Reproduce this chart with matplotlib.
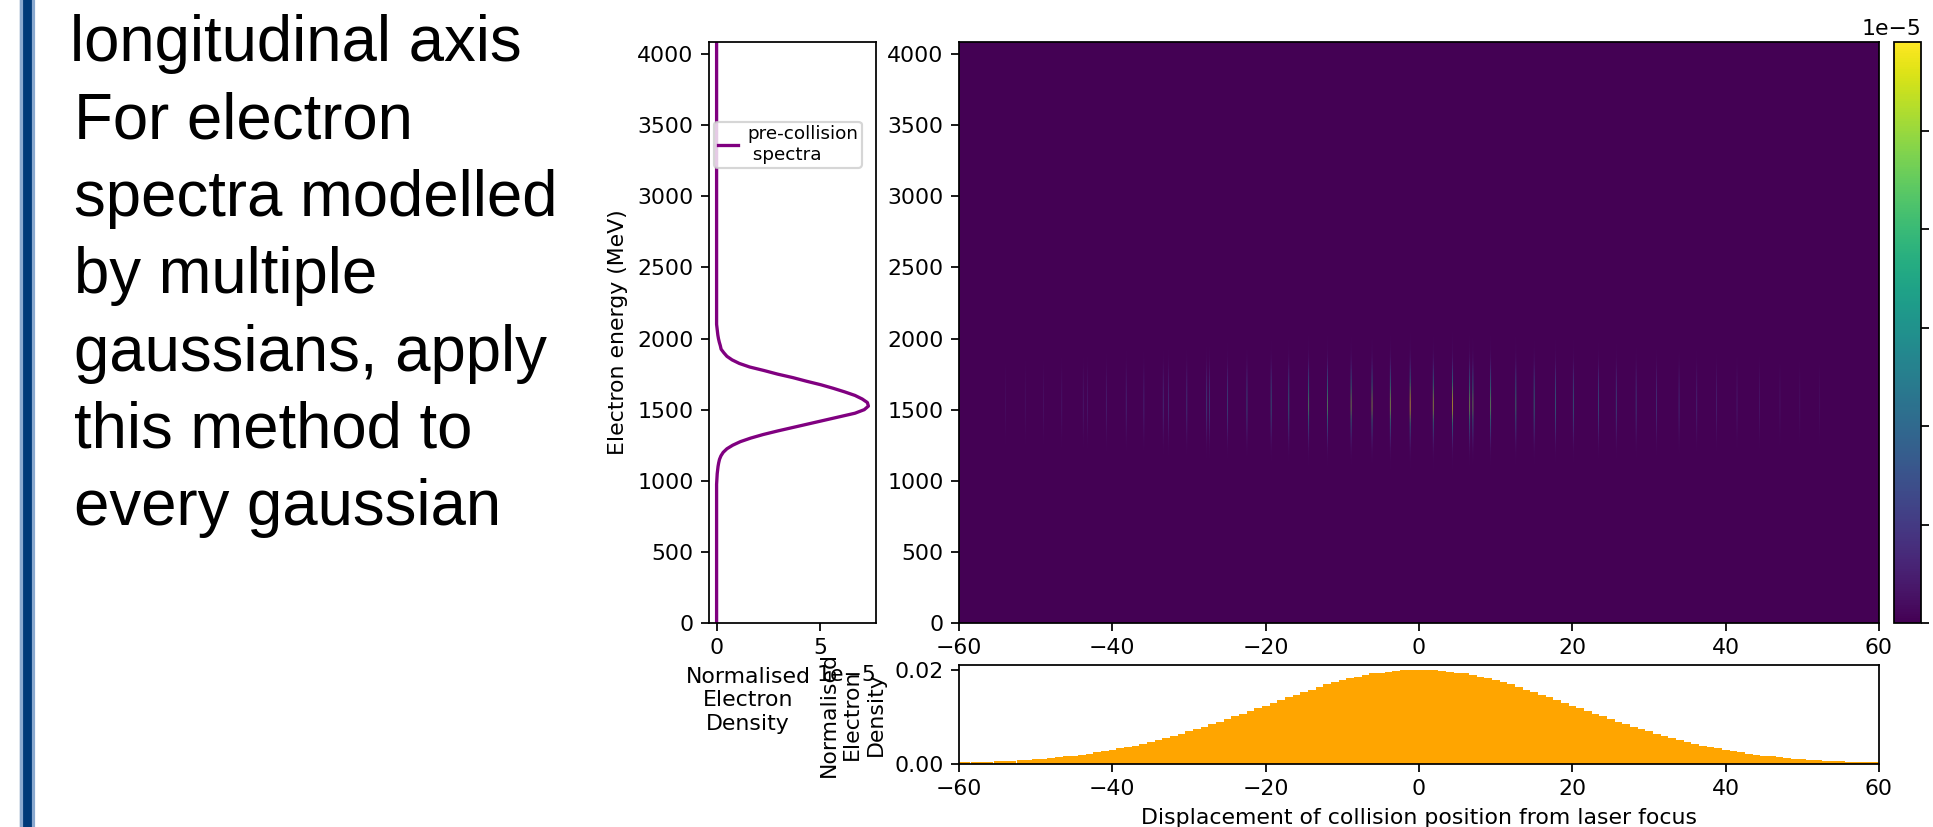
import numpy as np
import matplotlib
matplotlib.use("Agg")
import matplotlib.pyplot as plt
from matplotlib.patches import Rectangle

# slide text left of the figure
slide_lines = [
    "longitudinal axis",
    "For electron",
    "spectra modelled",
    "by multiple",
    "gaussians, apply",
    "this method to",
    "every gaussian",
]

# pre-collision spectrum (units of 1e-5), 1000..2100 MeV every 25 MeV
spectrum_start = 1000
spectrum_step = 25
spectrum_density = [
    0.01, 0.02, 0.03, 0.05, 0.07, 0.10, 0.14, 0.21, 0.32, 0.50,
    0.78, 1.15, 1.65, 2.25, 2.95, 3.70, 4.45, 5.20, 5.95, 6.70,
    7.15, 7.35, 7.30, 7.05, 6.70, 6.20, 5.65, 5.05, 4.35, 3.70,
    2.95, 2.30, 1.60, 1.10, 0.75, 0.50, 0.35, 0.22, 0.18, 0.13,
    0.09, 0.06, 0.04, 0.02, 0.00,
]

# collision positions of the streaks in the map and their peak value (units of 1e-5)
streak_pos = [
    -54.0, -51.4, -49.0, -46.6, -43.8, -43.3, -40.8, -38.2, -35.9, -33.4,
    -32.7, -30.3, -27.7, -27.4, -25.0, -22.5, -19.3, -17.0, -14.4, -12.0,
    -8.9, -6.2, -3.8, -1.2, 1.8, 4.3, 6.6, 7.0, 9.3, 12.6,
    15.0, 17.8, 20.1, 23.4, 25.7, 28.3, 30.9, 33.9, 36.2, 38.8,
    41.4, 44.4, 47.0, 49.6, 52.2,
]
streak_peak = [
    0.3, 0.35, 0.4, 0.5, 0.6, 0.6, 0.8, 1.0, 1.0, 1.2,
    1.2, 1.5, 1.7, 1.7, 2.0, 2.3, 2.8, 3.2, 4.2, 4.3,
    4.8, 5.0, 5.0, 5.9, 5.2, 5.7, 4.8, 4.6, 4.5, 3.8,
    3.4, 3.0, 2.7, 2.3, 2.0, 1.7, 1.4, 1.2, 1.0, 0.85,
    0.7, 0.55, 0.45, 0.35, 0.3,
]

# longitudinal bunch profile (bottom panel), -60..60 in steps of 1
bunch_pos = np.arange(-60, 61, 1)
bunch_neg = [
    0.0004, 0.0004, 0.0004, 0.0005, 0.0005, 0.0006, 0.0006, 0.0007, 0.0008, 0.0009,
    0.0010, 0.0011, 0.0013, 0.0014, 0.0016, 0.0018, 0.0020, 0.0022, 0.0025, 0.0027,
    0.0030, 0.0033, 0.0036, 0.0039, 0.0043, 0.0047, 0.0051, 0.0055, 0.0059, 0.0064,
    0.0069, 0.0074, 0.0079, 0.0084, 0.0089, 0.0095, 0.0101, 0.0107, 0.0112, 0.0118,
    0.0124, 0.0130, 0.0136, 0.0142, 0.0147, 0.0153, 0.0158, 0.0164, 0.0169, 0.0173,
    0.0178, 0.0182, 0.0185, 0.0189, 0.0192, 0.0194, 0.0196, 0.0198, 0.0199, 0.0200,
    0.0200,
]
bunch_pos_side = [
    0.0200, 0.0199, 0.0198, 0.0196, 0.0194, 0.0192, 0.0189, 0.0185, 0.0182, 0.0178,
    0.0173, 0.0169, 0.0164, 0.0158, 0.0153, 0.0147, 0.0142, 0.0136, 0.0130, 0.0124,
    0.0118, 0.0112, 0.0107, 0.0101, 0.0095, 0.0089, 0.0084, 0.0079, 0.0074, 0.0069,
    0.0064, 0.0059, 0.0055, 0.0051, 0.0047, 0.0043, 0.0039, 0.0036, 0.0033, 0.0030,
    0.0027, 0.0025, 0.0022, 0.0020, 0.0018, 0.0016, 0.0014, 0.0013, 0.0011, 0.0010,
    0.0009, 0.0008, 0.0007, 0.0006, 0.0006, 0.0005, 0.0005, 0.0004, 0.0004, 0.0004,
]
bunch_density = bunch_neg + bunch_pos_side

# energy grid of the map / spectrum line
energy_grid = np.arange(0, 4100, 25)
density_full = np.zeros(len(energy_grid))
i0 = spectrum_start // spectrum_step
density_full[i0:i0 + len(spectrum_density)] = spectrum_density

x_bin = 0.07
map_cols = np.zeros(int(round(120 / x_bin)))
for pos, peak in zip(streak_pos, streak_peak):
    map_cols[int(round((pos + 60) / x_bin))] = peak
heat_map = np.outer(density_full / density_full.max(), map_cols) * 1e-5

W, H = 1933, 827
DPI = 158
fig = plt.figure(figsize=(W / DPI, H / DPI), dpi=DPI)


def box(x0, y0, x1, y1):
    # pixel box (top-left origin) -> figure fraction rect
    return [x0 / W, 1 - y1 / H, (x1 - x0) / W, (y1 - y0) / H]


# slide decoration
fig.patches.append(Rectangle((21 / W, 0), 12 / W, 1, transform=fig.transFigure,
                             color="#003a78", zorder=0))
for xx in (21, 33):
    fig.patches.append(Rectangle((xx / W, 0), 1 / W, 1, transform=fig.transFigure,
                                 color="#8aa9cf", zorder=1))

for i, line in enumerate(slide_lines):
    x_px = 70 if i == 0 else 74
    fig.text(x_px / W, 1 - (61 + i * 77.4) / H, line, fontsize=29.5 * 155 / DPI,
             family=["Liberation Sans", "DejaVu Sans"], va="baseline", ha="left")

ax_spec = fig.add_axes(box(709, 42, 876, 623))
ax_map = fig.add_axes(box(959, 42, 1879, 623))
ax_cbar = fig.add_axes(box(1894, 42, 1921, 623))
ax_bunch = fig.add_axes(box(959, 665, 1879, 764))

# left: electron spectrum
ax_spec.plot(density_full * 1e-5, energy_grid, color="purple",
             label="pre-collision\n spectra")
ax_spec.set_ylim(0, 4085)
ax_spec.set_ylabel("Electron energy (MeV)")
ax_spec.set_xlabel("Normalised\nElectron\nDensity", x=0.235)
ax_spec.legend(loc="upper left", bbox_to_anchor=(0.03, 0.863), borderaxespad=0,
               fontsize=8.4, handlelength=1.1, handletextpad=0.5, borderpad=0.2)

# middle: map
im = ax_map.imshow(heat_map, origin="lower", aspect="auto", cmap="viridis",
                   extent=[-60, 60, -12.5, 4087.5],
                   interpolation="hanning", interpolation_stage="rgba")
ax_map.set_xlim(-60, 60)
ax_map.set_ylim(0, 4085)
fig.colorbar(im, cax=ax_cbar)

# bottom: bunch profile
ax_bunch.bar(bunch_pos, bunch_density, width=1.0, color="orange", linewidth=0)
ax_bunch.set_xlim(-60, 60)
ax_bunch.set_ylabel("Normalised\nElectron\nDensity")
ax_bunch.set_xlabel("Displacement of collision position from laser focus")

fig.savefig("out.png", dpi=DPI)
